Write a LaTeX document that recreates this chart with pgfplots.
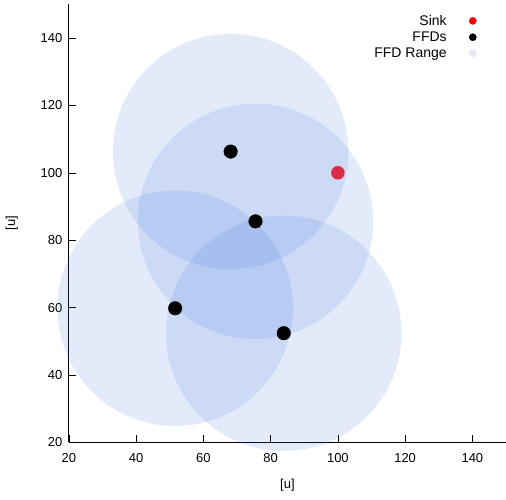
\documentclass[border=0pt]{standalone}
\usepackage{pgfplots}
\pgfplotsset{compat=1.18}
\usepackage{fontspec}
\setmainfont{Liberation Sans}
\definecolor{rangeblue}{RGB}{70,120,220}
\definecolor{rangelegend}{RGB}{228,235,250}
\definecolor{sinkred}{RGB}{225,25,50}
\begin{document}
\begin{tikzpicture}
\begin{axis}[
  scale only axis,
  width=437.7pt, height=438.75pt,
  xmin=20, xmax=150, ymin=20, ymax=150,
  axis x line*=bottom, axis y line*=left,
  axis line style={line width=1pt,-},
  xtick={20,40,...,140}, ytick={20,40,...,140},
  tick style={black, line width=0.6pt},
  major tick length=7pt,
  tick align=inside,
  /pgf/number format/assume math mode=true,
  every tick label/.append style={font=\fontsize{13}{15}\selectfont},
  xticklabel style={font=\fontsize{13}{15}\selectfont, yshift=-7pt},
  yticklabel style={font=\fontsize{13}{15}\selectfont, xshift=-3pt},
  xlabel={[u]}, ylabel={[u]},
  label style={font=\fontsize{13}{15}\selectfont},
  xlabel style={yshift=-10pt},
  ylabel style={yshift=16pt},
  clip=false,
  legend style={at={(0.94,0.985)}, anchor=north east, draw=none, fill=none,
    font=\fontsize{14}{16}\selectfont, row sep=1pt},
  legend cell align=right,
  legend plot pos=right,
]
\addplot[only marks, mark=*, mark size=117.9pt, color=rangeblue, mark options={draw opacity=0, fill=rangeblue, fill opacity=0.15}, forget plot] coordinates {
(68.1,106.3) (75.5,85.6) (51.6,59.8) (83.9,52.4)
};
\addplot[only marks, mark=*, mark size=6.8pt, color=sinkred, mark options={draw opacity=0, fill=sinkred, fill opacity=0.9},
  legend image code/.code={\path[draw=none] (0cm,0cm) -- (0.85cm,0cm); \fill[red] (0.85cm,0cm) circle (3.6pt);}] coordinates {(100,100)};
\addlegendentry{Sink}
\addplot[only marks, mark=*, mark size=6.8pt, color=black, mark options={fill=black},
  legend image code/.code={\path[draw=none] (0cm,0cm) -- (0.85cm,0cm); \fill[black] (0.85cm,0cm) circle (3.6pt);}] coordinates {
(68.1,106.3) (75.5,85.6) (51.6,59.8) (83.9,52.4)
};
\addlegendentry{FFDs}
\addlegendimage{legend image code/.code={\path[draw=none] (0cm,0cm) -- (0.85cm,0cm); \fill[rangelegend] (0.85cm,0cm) circle (3.6pt);}}
\addlegendentry{FFD Range}
\end{axis}
\pgfresetboundingbox
\path (current axis.south west) ++(-69pt,-57pt) coordinate (bbA);
\path (current axis.north east) ++(0pt,4.3pt) coordinate (bbB);
\useasboundingbox (bbA) rectangle (bbB);
\end{tikzpicture}
\end{document}
